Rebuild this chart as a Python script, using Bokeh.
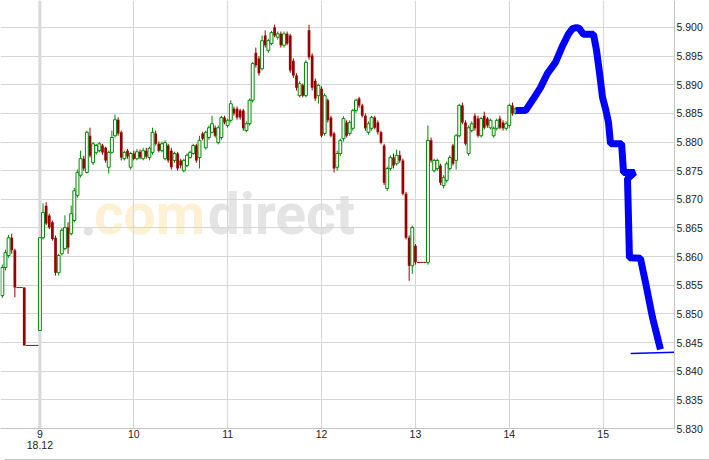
from bokeh.plotting import figure
from bokeh.models import FixedTicker, PrintfTickFormatter, Span, Div, ColumnDataSource, LinearAxis
from bokeh.layouts import column
from bokeh.core.properties import value
from bokeh.embed import file_html
from bokeh.resources import INLINE

# ---------------- data ----------------
first_bar_hour = 8.6      # 08:36, 2-minute bars
bar_minutes = 2

bar_open = [5.8532, 5.8581, 5.8602, 5.8633, 5.8611, 5.8546, 5.8546, 5.8546, 5.8445, 5.8445,
            5.8445, 5.8445, 5.8471, 5.8633, 5.8689, 5.8672, 5.8660, 5.8633, 5.8572, 5.8605,
            5.8614, 5.8651, 5.8640, 5.8663, 5.8707, 5.8742, 5.8771, 5.8747, 5.8811, 5.8764,
            5.8782, 5.8785, 5.8794, 5.8790, 5.8756, 5.8782, 5.8811, 5.8839, 5.8817, 5.8771,
            5.8785, 5.8756, 5.8780, 5.8771, 5.8783, 5.8771, 5.8785, 5.8773, 5.8782, 5.8815,
            5.8797, 5.8785, 5.8771, 5.8794, 5.8785, 5.8768, 5.8780, 5.8768, 5.8750, 5.8759,
            5.8773, 5.8780, 5.8794, 5.8773, 5.8815, 5.8790, 5.8808, 5.8817, 5.8825, 5.8799,
            5.8808, 5.8843, 5.8829, 5.8838, 5.8858, 5.8858, 5.8855, 5.8855, 5.8820, 5.8832,
            5.8873, 5.8956, 5.8946, 5.8928, 5.8986, 5.8960, 5.8972, 5.9000, 5.8983, 5.8989,
            5.8969, 5.8989, 5.8986, 5.8942, 5.8916, 5.8881, 5.8899, 5.8881, 5.8995, 5.8951,
            5.8907, 5.8881, 5.8893, 5.8815, 5.8873, 5.8843, 5.8815, 5.8756, 5.8780, 5.8806,
            5.8834, 5.8815, 5.8824, 5.8855, 5.8876, 5.8864, 5.8846, 5.8817, 5.8824, 5.8843,
            5.8834, 5.8817, 5.8794, 5.8719, 5.8754, 5.8773, 5.8762, 5.8777, 5.8768, 5.8710,
            5.8633, 5.8584, 5.8619, 5.8590, 5.8590, 5.8590, 5.8590, 5.8803, 5.8750, 5.8754,
            5.8759, 5.8724, 5.8733, 5.8754, 5.8794, 5.8768, 5.8811, 5.8864, 5.8834, 5.8780,
            5.8820, 5.8846, 5.8841, 5.8811, 5.8846, 5.8841, 5.8825, 5.8811, 5.8824, 5.8841,
            5.8834, 5.8824, 5.8829, 5.8864, 5.8850]
bar_high = [5.8586, 5.8612, 5.8638, 5.8640, 5.8614, 5.8546, 5.8546, 5.8546, 5.8445, 5.8445,
            5.8445, 5.8445, 5.8633, 5.8693, 5.8695, 5.8675, 5.8663, 5.8637, 5.8605, 5.8650,
            5.8672, 5.8660, 5.8689, 5.8720, 5.8752, 5.8785, 5.8776, 5.8820, 5.8825, 5.8800,
            5.8797, 5.8800, 5.8797, 5.8792, 5.8785, 5.8820, 5.8848, 5.8843, 5.8820, 5.8785,
            5.8788, 5.8783, 5.8785, 5.8788, 5.8787, 5.8790, 5.8790, 5.8792, 5.8825, 5.8820,
            5.8801, 5.8801, 5.8803, 5.8797, 5.8790, 5.8783, 5.8783, 5.8771, 5.8771, 5.8780,
            5.8785, 5.8797, 5.8797, 5.8811, 5.8818, 5.8820, 5.8829, 5.8846, 5.8829, 5.8829,
            5.8846, 5.8846, 5.8841, 5.8873, 5.8862, 5.8862, 5.8858, 5.8858, 5.8836, 5.8876,
            5.8940, 5.8965, 5.8950, 5.8986, 5.8995, 5.8980, 5.8994, 5.9005, 5.8993, 5.8993,
            5.8993, 5.8993, 5.8989, 5.8946, 5.8920, 5.8906, 5.8902, 5.8943, 5.9005, 5.8955,
            5.8911, 5.8902, 5.8897, 5.8885, 5.8876, 5.8846, 5.8818, 5.8785, 5.8806, 5.8845,
            5.8838, 5.8838, 5.8858, 5.8876, 5.8879, 5.8867, 5.8850, 5.8836, 5.8846, 5.8846,
            5.8838, 5.8820, 5.8797, 5.8757, 5.8777, 5.8780, 5.8787, 5.8785, 5.8771, 5.8713,
            5.8637, 5.8654, 5.8622, 5.8590, 5.8590, 5.8590, 5.8829, 5.8808, 5.8771, 5.8771,
            5.8762, 5.8742, 5.8766, 5.8777, 5.8797, 5.8814, 5.8867, 5.8869, 5.8838, 5.8829,
            5.8836, 5.8850, 5.8846, 5.8844, 5.8853, 5.8844, 5.8841, 5.8827, 5.8841, 5.8846,
            5.8838, 5.8836, 5.8867, 5.8869, 5.8860]
bar_low = [5.8528, 5.8576, 5.8598, 5.8605, 5.8529, 5.8546, 5.8546, 5.8445, 5.8445, 5.8445,
           5.8445, 5.8445, 5.8471, 5.8630, 5.8655, 5.8648, 5.8628, 5.8567, 5.8567, 5.8602,
           5.8611, 5.8605, 5.8637, 5.8660, 5.8703, 5.8738, 5.8750, 5.8745, 5.8773, 5.8760,
           5.8778, 5.8782, 5.8778, 5.8764, 5.8745, 5.8780, 5.8808, 5.8811, 5.8768, 5.8768,
           5.8771, 5.8752, 5.8768, 5.8768, 5.8770, 5.8768, 5.8771, 5.8768, 5.8778, 5.8794,
           5.8782, 5.8782, 5.8768, 5.8764, 5.8752, 5.8764, 5.8750, 5.8754, 5.8747, 5.8756,
           5.8771, 5.8778, 5.8764, 5.8754, 5.8803, 5.8787, 5.8804, 5.8815, 5.8808, 5.8796,
           5.8804, 5.8831, 5.8825, 5.8834, 5.8846, 5.8839, 5.8839, 5.8820, 5.8817, 5.8829,
           5.8869, 5.8930, 5.8916, 5.8925, 5.8965, 5.8956, 5.8969, 5.8983, 5.8979, 5.8965,
           5.8965, 5.8969, 5.8921, 5.8912, 5.8890, 5.8878, 5.8878, 5.8878, 5.8944, 5.8890,
           5.8872, 5.8867, 5.8808, 5.8811, 5.8834, 5.8808, 5.8747, 5.8750, 5.8776, 5.8801,
           5.8808, 5.8811, 5.8820, 5.8851, 5.8860, 5.8843, 5.8820, 5.8813, 5.8820, 5.8822,
           5.8813, 5.8796, 5.8725, 5.8715, 5.8750, 5.8754, 5.8759, 5.8764, 5.8707, 5.8630,
           5.8558, 5.8570, 5.8586, 5.8590, 5.8590, 5.8590, 5.8586, 5.8764, 5.8747, 5.8750,
           5.8725, 5.8719, 5.8729, 5.8750, 5.8759, 5.8752, 5.8808, 5.8831, 5.8794, 5.8776,
           5.8817, 5.8820, 5.8808, 5.8808, 5.8822, 5.8825, 5.8822, 5.8808, 5.8820, 5.8822,
           5.8820, 5.8820, 5.8825, 5.8846, 5.8848]
bar_close = [5.8581, 5.8607, 5.8633, 5.8611, 5.8546, 5.8546, 5.8546, 5.8445, 5.8445, 5.8445,
             5.8445, 5.8445, 5.8633, 5.8677, 5.8658, 5.8651, 5.8631, 5.8572, 5.8602, 5.8646,
             5.8651, 5.8616, 5.8675, 5.8715, 5.8747, 5.8771, 5.8754, 5.8817, 5.8776, 5.8797,
             5.8794, 5.8797, 5.8782, 5.8768, 5.8782, 5.8808, 5.8839, 5.8815, 5.8773, 5.8782,
             5.8775, 5.8780, 5.8771, 5.8783, 5.8773, 5.8785, 5.8775, 5.8789, 5.8817, 5.8797,
             5.8785, 5.8797, 5.8799, 5.8768, 5.8756, 5.8780, 5.8754, 5.8759, 5.8768, 5.8777,
             5.8782, 5.8794, 5.8768, 5.8803, 5.8806, 5.8817, 5.8825, 5.8832, 5.8811, 5.8825,
             5.8843, 5.8834, 5.8838, 5.8867, 5.8850, 5.8843, 5.8843, 5.8824, 5.8832, 5.8873,
             5.8937, 5.8934, 5.8920, 5.8977, 5.8969, 5.8977, 5.8991, 5.8986, 5.8989, 5.8969,
             5.8989, 5.8972, 5.8925, 5.8916, 5.8895, 5.8902, 5.8881, 5.8939, 5.8948, 5.8895,
             5.8876, 5.8899, 5.8811, 5.8881, 5.8838, 5.8811, 5.8754, 5.8780, 5.8803, 5.8841,
             5.8811, 5.8834, 5.8855, 5.8873, 5.8864, 5.8846, 5.8824, 5.8832, 5.8843, 5.8825,
             5.8817, 5.8799, 5.8729, 5.8754, 5.8773, 5.8759, 5.8777, 5.8768, 5.8710, 5.8633,
             5.8584, 5.8651, 5.8590, 5.8590, 5.8590, 5.8590, 5.8803, 5.8768, 5.8768, 5.8768,
             5.8729, 5.8738, 5.8762, 5.8773, 5.8762, 5.8811, 5.8864, 5.8834, 5.8797, 5.8825,
             5.8832, 5.8824, 5.8811, 5.8841, 5.8825, 5.8829, 5.8838, 5.8824, 5.8838, 5.8825,
             5.8824, 5.8832, 5.8864, 5.8850, 5.8858]

forecast_hour = [14.066, 14.173, 14.258, 14.332, 14.407, 14.492, 14.567, 14.631, 14.673, 14.716,
                 14.748, 14.790, 14.897, 14.929, 14.961, 14.993, 15.025, 15.057, 15.078, 15.196,
                 15.217, 15.334, 15.259, 15.280, 15.397, 15.451, 15.525, 15.610]
forecast_price = [5.8855, 5.8855, 5.8876, 5.8895, 5.8920, 5.8939, 5.8968, 5.8989, 5.8998, 5.9000,
                  5.8998, 5.8988, 5.8988, 5.8960, 5.8921, 5.8878, 5.8858, 5.8834, 5.8797, 5.8797,
                  5.8747, 5.8747, 5.8736, 5.8598, 5.8597, 5.8555, 5.8494, 5.8438]

last_price_hour = [15.293, 15.772]
last_price = [5.8431, 5.8433]

hour_ticks = [9, 10, 11, 12, 13, 14, 15]
price_ticks = [5.830, 5.835, 5.840, 5.845, 5.850, 5.855, 5.860, 5.865,
               5.870, 5.875, 5.880, 5.885, 5.890, 5.895, 5.900]
session_date = "18.12"
session_start = 9

# ---------------- styling ----------------
GREEN = "#008a00"
RED = "#990000"
BLUE = "#0000ff"
GRID = "#d6d6d6"
bar_len = bar_minutes / 60.0

times = [first_bar_hour + i * bar_len for i in range(len(bar_open))]
up = dict(x=[], o=[], c=[], h=[], l=[])
dn = dict(x=[], o=[], c=[], h=[], l=[])
flat = dict(x0=[], x1=[], y=[])
for t, o, h, l, c in zip(times, bar_open, bar_high, bar_low, bar_close):
    if o == c and h == l:
        flat["x0"].append(t - bar_len / 2)
        flat["x1"].append(t + bar_len / 2)
        flat["y"].append(c)
        continue
    d = up if c > o else dn
    d["x"].append(t); d["o"].append(o); d["c"].append(c); d["h"].append(h); d["l"].append(l)

p = figure(width=709, height=454, x_range=(8.58032, 15.75970), y_range=(5.830, 5.904713),
           x_axis_location="below", y_axis_location="right",
           toolbar_location=None, output_backend="svg",
           min_border_left=0, min_border_top=0, min_border_right=35, min_border_bottom=26)
p.outline_line_color = None
p.background_fill_color = "white"
p.border_fill_color = "white"

p.xgrid.ticker = FixedTicker(ticks=hour_ticks)
p.ygrid.ticker = FixedTicker(ticks=price_ticks)
p.xgrid.grid_line_color = GRID
p.ygrid.grid_line_color = GRID
p.ygrid.level = "image"

p.xaxis.ticker = FixedTicker(ticks=hour_ticks)
p.yaxis.ticker = FixedTicker(ticks=price_ticks)
p.yaxis.formatter = PrintfTickFormatter(format="%.3f")

date_axis = LinearAxis(ticker=FixedTicker(ticks=[session_start]),
                       major_label_overrides={session_start: session_date})
p.add_layout(date_axis, "below")

for ax in (p.xaxis[0], p.yaxis[0], date_axis):
    ax.major_tick_line_color = None
    ax.minor_tick_line_color = None
    ax.major_tick_out = 0
    ax.major_tick_in = 0
    ax.minor_tick_out = 0
    ax.axis_line_color = "#c4c4c4"
    ax.major_label_text_font = "Liberation Sans"
    ax.major_label_text_font_size = "10.5px"
    ax.major_label_text_color = "#222222"
    ax.major_label_standoff = 2
date_axis.axis_line_color = None
date_axis.major_label_standoff = 0
date_axis.major_label_text_align = "left"
p.xaxis[0].major_label_standoff = 1

# session separator
p.add_layout(Span(location=session_start, dimension="height", line_color="#d8d8d8",
                  line_width=3, level="underlay"))

# watermark
p.quad(left=[9.538], right=[12.34], bottom=[5.8619], top=[5.8746],
       fill_color="white", line_color=None, level="image")
p.text(x=[9.43, 9.575, 10.788], y=[5.8673] * 3, text=[".", "com", "direct"],
       text_color=["#e2e2e2", "#fdf0d4", "#e4e4e4"], text_font=value("Roboto"),
       text_font_style="bold", text_font_size="57px", text_baseline="alphabetic",
       text_align="left", level="image")

# candles
up_src = ColumnDataSource(up)
dn_src = ColumnDataSource(dn)
p.segment(x0="x", y0="l", x1="x", y1="h", source=dn_src, line_color=RED, line_width=1)
p.segment(x0="x", y0="l", x1="x", y1="h", source=up_src, line_color=GREEN, line_width=1)
p.segment(x0="x0", y0="y", x1="x1", y1="y", source=ColumnDataSource(flat),
          line_color=RED, line_width=1)
p.vbar(x="x", width=0.029, bottom="c", top="o", source=dn_src, fill_color=RED, line_color=None)
p.vbar(x="x", width=0.031, bottom="o", top="c", source=up_src, fill_color="white",
       line_color=GREEN, line_width=1)

# forecast line
p.line(forecast_hour, forecast_price, line_color=BLUE, line_width=7)
p.line(last_price_hour, last_price, line_color=BLUE, line_width=1.5)

strip = Div(width=709, height=6, styles={"background-color": "#e6e6e6",
                                         "border-top": "1px solid #c4c4c4"})
layout = column(p, strip, spacing=0)

open("out.html", "w").write(file_html(layout, INLINE))
